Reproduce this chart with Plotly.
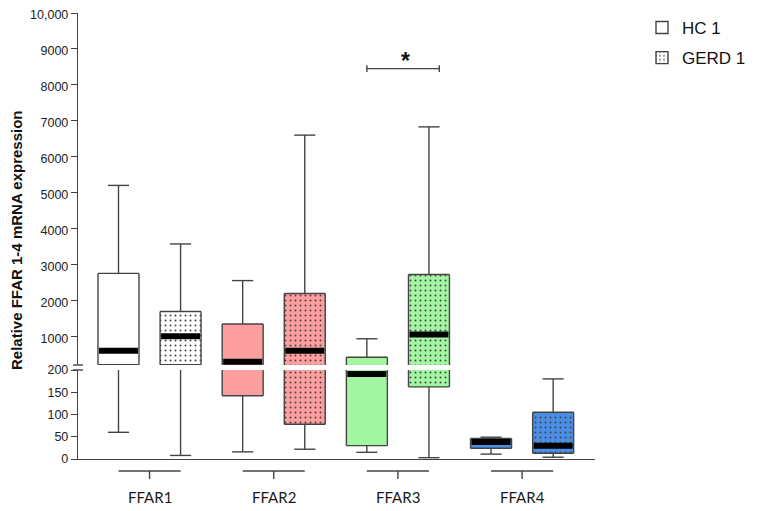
import plotly.graph_objects as go

# ---------------- data ----------------
groups = ["FFAR1", "FFAR2", "FFAR3", "FFAR4"]
series_names = ["HC 1", "GERD 1"]

hc_lower = [60, 16, 15, 11]
hc_q1 = [205, 142, 30, 24]
hc_median = [600, 290, 191, 38]
hc_q3 = [2750, 1340, 415, 46]
hc_upper = [5200, 2550, 930, 49]

gerd_lower = [8, 22, 3, 4]
gerd_q1 = [205, 78, 162, 13]
gerd_median = [1000, 600, 1050, 30]
gerd_q3 = [1690, 2190, 2720, 105]
gerd_upper = [3570, 6600, 6830, 180]

upper_ticks = [1000, 2000, 3000, 4000, 5000, 6000, 7000, 8000, 9000, 10000]
upper_ticktext = ["1000", "2000", "3000", "4000", "5000", "6000", "7000", "8000", "9000", "10,000"]
lower_ticks = [0, 50, 100, 150, 200]

sig_group = 2
sig_text = "*"

# ---------------- style / geometry ----------------
fill_colors = ["#FFFFFF", "#FF9E9E", "#A2F6A2", "#4A8FE7"]
edge = "#444444"
lw = 1.4
pair_offset = 0.25
box_w = 0.33
cap_w = 0.17
# page has an 8px body margin; compensate so the picture lands where the reference is
W, H = 749, 503
ml, mr, mt, mb = 70, 162, 5, 52
plot_h = H - mt - mb
pw = W - ml - mr
lower_dom = [0, (451 - 362) / plot_h]
upper_dom = [(451 - 357) / plot_h, 1]
segments = [("y", 0, 200), ("y2", 200, 10000)]

dot_pattern = dict(shape=".", size=5, solidity=0.12, fgcolor="#222222", fgopacity=1, fillmode="overlay")
no_pattern = dict(shape="")

fig = go.Figure()

series = [
    (series_names[0], -pair_offset, hc_lower, hc_q1, hc_median, hc_q3, hc_upper, no_pattern),
    (series_names[1], pair_offset, gerd_lower, gerd_q1, gerd_median, gerd_q3, gerd_upper, dot_pattern),
]


def clip(a, b, lo, hi):
    a2, b2 = max(a, lo), min(b, hi)
    return (a2, b2) if b2 > a2 else None


for name, off, lo, q1, med, q3, hi, pattern in series:
    xs = [i + off for i in range(len(groups))]
    # legend entry
    fig.add_trace(go.Bar(x=[None], y=[None], name=name, legendgroup=name, showlegend=True,
                         marker=dict(color=fill_colors[0], line=dict(color=edge, width=lw),
                                     pattern=pattern), hoverinfo="skip"))
    for yref, s0, s1 in segments:
        bx, bb, bh, bc = [], [], [], []
        ox, oy = [], []
        wx, wy = [], []
        mx, my = [], []
        for k, x in enumerate(xs):
            xl, xr = x - box_w / 2, x + box_w / 2
            c = clip(q1[k], q3[k], s0, s1)
            if c:
                bx.append(x); bb.append(c[0]); bh.append(c[1] - c[0]); bc.append(fill_colors[k])
                ox += [xl, xl, None, xr, xr, None]
                oy += [c[0], c[1], None, c[0], c[1], None]
                if s0 <= q1[k] <= s1:
                    ox += [xl, xr, None]; oy += [q1[k], q1[k], None]
                if s0 <= q3[k] <= s1:
                    ox += [xl, xr, None]; oy += [q3[k], q3[k], None]
            for a, b in [(lo[k], q1[k]), (q3[k], hi[k])]:
                c = clip(a, b, s0, s1)
                if c:
                    wx += [x, x, None]; wy += [c[0], c[1], None]
            for v in [lo[k], hi[k]]:
                if s0 <= v <= s1:
                    wx += [x - cap_w / 2, x + cap_w / 2, None]; wy += [v, v, None]
            if s0 <= med[k] <= s1:
                mx += [xl + 0.008, xr - 0.008, None]; my += [med[k], med[k], None]
        if bx:
            fig.add_trace(go.Bar(x=bx, y=bh, base=bb, width=box_w,
                                 marker=dict(color=bc, line=dict(width=0), pattern=pattern),
                                 legendgroup=name, showlegend=False, yaxis=yref, hoverinfo="skip"))
        fig.add_trace(go.Scatter(x=ox + wx, y=oy + wy, mode="lines", line=dict(color=edge, width=lw),
                                 showlegend=False, yaxis=yref, hoverinfo="skip"))
        if mx:
            fig.add_trace(go.Scatter(x=mx, y=my, mode="lines", line=dict(color="black", width=6),
                                     showlegend=False, yaxis=yref, hoverinfo="skip"))

# significance bar
sig_y = 8450
sx0 = sig_group - pair_offset
sx1 = sig_group + pair_offset + 0.083
tick_h = 92
fig.add_trace(go.Scatter(
    x=[sx0, sx0, None, sx0, sx1, None, sx1, sx1],
    y=[sig_y - tick_h, sig_y + tick_h, None, sig_y, sig_y, None, sig_y - tick_h, sig_y + tick_h],
    mode="lines", line=dict(color=edge, width=lw), showlegend=False, yaxis="y2", hoverinfo="skip"))
fig.add_annotation(x=(sx0 + sx1) / 2 + 0.02, y=8650, xref="x", yref="y2", text="<b>" + sig_text + "</b>",
                   showarrow=False, xanchor="center", yanchor="middle",
                   font=dict(size=23, color="#111111", family="Liberation Sans"))

# group brackets + labels
shapes = []
y_br = -12 / plot_h
y_br_tick = -20 / plot_h
for i, g in enumerate(groups):
    shapes.append(dict(type="line", xref="x", yref="paper", x0=i - pair_offset, x1=i + pair_offset,
                       y0=y_br, y1=y_br, line=dict(color=edge, width=lw)))
    shapes.append(dict(type="line", xref="x", yref="paper", x0=i, x1=i,
                       y0=y_br, y1=y_br_tick, line=dict(color=edge, width=lw)))
    fig.add_annotation(x=i, y=-38 / plot_h, xref="x", yref="paper", text=g, showarrow=False,
                       xanchor="center", yanchor="middle",
                       font=dict(size=15, color="#1a1a1a", family="Lato"))

# axis break marks
for yy in [upper_dom[0], lower_dom[1]]:
    shapes.append(dict(type="line", xref="paper", yref="paper", x0=-5 / pw, x1=5 / pw,
                       y0=yy, y1=yy, line=dict(color=edge, width=lw)))

# y title
fig.add_annotation(x=-62 / pw, y=(451 - 232) / plot_h, xref="paper", yref="paper",
                   xanchor="center", yanchor="middle",
                   text="<b>Relative FFAR 1-4 mRNA expression</b>", textangle=-90, showarrow=False,
                   font=dict(size=15, color="#111111", family="Liberation Sans"))

axis_font = dict(size=12.5, color="#222222", family="Liberation Sans")
fig.update_layout(
    width=W, height=H,
    margin=dict(l=ml, r=mr, t=mt, b=mb, autoexpand=False),
    plot_bgcolor="white", paper_bgcolor="white",
    barmode="overlay",
    shapes=shapes,
    xaxis=dict(range=[-0.576, 3.587], showgrid=False, zeroline=False, showticklabels=False,
               showline=True, linecolor=edge, linewidth=lw, ticks="", anchor="y"),
    yaxis=dict(domain=lower_dom, range=[0, 200], tickvals=lower_ticks, showgrid=False, zeroline=False,
               showline=True, linecolor=edge, linewidth=lw, ticks="outside", ticklen=6,
               tickcolor=edge, tickwidth=lw, tickfont=axis_font, anchor="x", automargin=False,
               ticklabeloverflow="allow"),
    yaxis2=dict(domain=upper_dom, range=[200, 10000], tickvals=upper_ticks, ticktext=upper_ticktext,
                showgrid=False, zeroline=False, showline=True, linecolor=edge, linewidth=lw,
                ticks="outside", ticklen=6, tickcolor=edge, tickwidth=lw, tickfont=axis_font,
                anchor="x", automargin=False, ticklabeloverflow="allow", ticklabelshift=2),
    legend=dict(x=(634 - ml) / pw, y=1 + 3 / plot_h, xanchor="left", yanchor="top", traceorder="grouped",
                tracegroupgap=5, font=dict(size=17, color="#111111", family="Liberation Sans"),
                bgcolor="rgba(0,0,0,0)"),
    showlegend=True,
)

fig.write_html("out.html")
